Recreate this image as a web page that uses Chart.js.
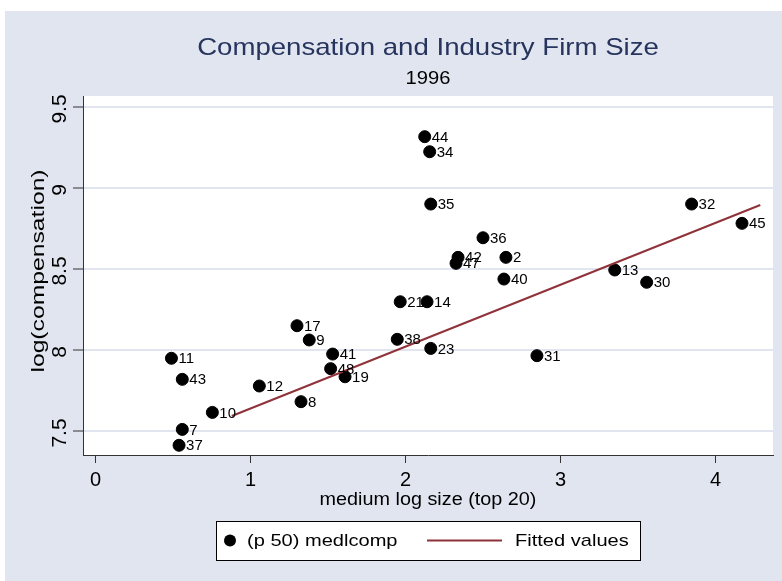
<!DOCTYPE html>
<html>
<head>
<meta charset="utf-8">
<script src="https://cdn.jsdelivr.net/npm/chart.js@4"></script>
<style>
  html, body { margin: 0; padding: 0; background: #ffffff; }
  #wrap { width: 782px; height: 581px; position: relative; }
</style>
</head>
<body>
<div id="wrap"><canvas id="c" width="782" height="581"></canvas></div>
<script>
// ---- data ----
const industryIds = ["11","43","10","7","37","12","17","9","41","48","19","8",
                     "44","34","35","36","42","47","2","40","21","14","38","23","31","13","30","32","45"];
const medLogSize  = [0.49,0.56,0.754,0.56,0.539,1.057,1.30,1.379,1.530,1.517,1.61,1.326,
                     2.124,2.156,2.163,2.50,2.339,2.326,2.648,2.635,1.966,2.139,1.947,2.163,2.848,3.35,3.556,3.846,4.171];
const medLogComp  = [7.949,7.819,7.615,7.51,7.412,7.778,8.15,8.062,7.975,7.885,7.835,7.681,
                     9.317,9.224,8.901,8.693,8.572,8.535,8.572,8.438,8.298,8.298,8.066,8.01,7.965,8.494,8.418,8.901,8.782];
const fittedX = [0.879, 4.289];
const fittedY = [7.593, 8.895];
const xTicks = [0, 1, 2, 3, 4];
const yTicks = [7.5, 8, 8.5, 9, 9.5];
const seriesNames = ["(p 50) medlcomp", "Fitted values"];
const titleText = "Compensation and Industry Firm Size";
const subtitleText = "1996";
const xTitle = "medium log size (top 20)";
const yTitle = "log(compensation)";

const FONT = "'Liberation Sans', Arial, sans-serif";
const BG = "#e1e5ef";
const LINE = "#8f3239";
const TITLE_COLOR = "#26345e";

function drawText(ctx, text, x, y, size, sx, rot, align) {
  ctx.save();
  ctx.translate(x, y);
  if (rot) ctx.rotate(rot);
  ctx.scale(sx, 1);
  ctx.font = size + "px " + FONT;
  ctx.textAlign = align || 'center';
  ctx.textBaseline = 'middle';
  ctx.fillText(text, 0, 0);
  ctx.restore();
}

const bgPlugin = {
  id: 'bg',
  beforeDraw(chart) {
    const ctx = chart.ctx, a = chart.chartArea;
    ctx.save();
    ctx.fillStyle = "#ffffff";
    ctx.fillRect(0, 0, chart.width, chart.height);
    ctx.fillStyle = BG;
    ctx.fillRect(5, 11, chart.width - 5, chart.height - 11);
    ctx.fillStyle = "#ffffff";
    ctx.fillRect(a.left, a.top, a.right - a.left, a.bottom - a.top);
    ctx.restore();
  }
};

const textPlugin = {
  id: 'texts',
  afterDraw(chart) {
    const ctx = chart.ctx, a = chart.chartArea;
    const cx = (a.left + a.right) / 2;
    const ys = chart.scales.y;
    ctx.save();
    // titles
    ctx.fillStyle = TITLE_COLOR;
    drawText(ctx, titleText, cx, 48, 24, 1.15, 0);
    ctx.fillStyle = "#000";
    drawText(ctx, subtitleText, cx, 79, 18, 1.12, 0);
    // x title
    drawText(ctx, xTitle, cx, 500, 18, 1.1, 0);
    // y tick labels (rotated)
    ys.ticks.forEach(t => {
      const y = ys.getPixelForValue(t.value);
      drawText(ctx, String(t.value), 60, y + 2, 20, 1.05, -Math.PI / 2);
    });
    // y title
    drawText(ctx, yTitle, 39, 271, 19, 1.3, -Math.PI / 2);
    // point labels
    const meta = chart.getDatasetMeta(0);
    meta.data.forEach((el, i) => {
      drawText(ctx, industryIds[i], el.x + 7, el.y + 1, 15, 1.0, 0, 'left');
    });
    // legend
    const lx = 216, ly = 521, lw = 424, lh = 39;
    ctx.fillStyle = "#fff";
    ctx.fillRect(lx, ly, lw, lh);
    ctx.strokeStyle = "#000";
    ctx.lineWidth = 1;
    ctx.strokeRect(lx + 0.5, ly + 0.5, lw, lh);
    const my = ly + lh / 2;
    ctx.fillStyle = "#000";
    ctx.beginPath();
    ctx.arc(230, my, 6, 0, Math.PI * 2);
    ctx.fill();
    drawText(ctx, chart.data.datasets[0].label, 247, my + 1, 17, 1.18, 0, 'left');
    ctx.strokeStyle = LINE;
    ctx.lineWidth = 2;
    ctx.beginPath();
    ctx.moveTo(427, my);
    ctx.lineTo(502, my);
    ctx.stroke();
    drawText(ctx, chart.data.datasets[1].label, 515, my + 1, 17, 1.18, 0, 'left');
    ctx.restore();
  }
};

new Chart(document.getElementById('c'), {
  type: 'scatter',
  data: {
    datasets: [
      {
        label: seriesNames[0],
        data: medLogSize.map((x, i) => ({ x: x, y: medLogComp[i] })),
        backgroundColor: '#000',
        borderColor: '#000',
        pointRadius: 6,
        pointHoverRadius: 6,
        order: 1
      },
      {
        label: seriesNames[1],
        type: 'line',
        data: fittedX.map((x, i) => ({ x: x, y: fittedY[i] })),
        borderColor: LINE,
        borderWidth: 2,
        pointRadius: 0,
        fill: false,
        tension: 0,
        order: 0
      }
    ]
  },
  options: {
    responsive: false,
    animation: false,
    events: [],
    layout: { padding: { left: 0, top: 96, right: 9, bottom: 0 } },
    plugins: { legend: { display: false }, title: { display: false }, tooltip: { enabled: false } },
    scales: {
      x: {
        type: 'linear',
        min: -0.0806,
        max: 4.371,
        afterBuildTicks: s => { s.ticks = xTicks.map(v => ({ value: v })); },
        afterFit: s => { s.height = 126; },
        grid: { drawOnChartArea: false, drawTicks: true, tickLength: 8, tickColor: '#333', lineWidth: 1 },
        border: { display: true, color: '#333', width: 1 },
        ticks: { color: '#000', font: { family: FONT, size: 20 }, padding: 5, maxRotation: 0 }
      },
      y: {
        type: 'linear',
        min: 7.352,
        max: 9.568,
        afterBuildTicks: s => { s.ticks = yTicks.map(v => ({ value: v })); },
        afterFit: s => { s.width = 83; },
        grid: { color: '#e1e5ef', lineWidth: 2, drawTicks: true, tickLength: 10, tickColor: '#333', tickWidth: 1 },
        border: { display: true, color: '#333', width: 1 },
        ticks: { display: false }
      }
    }
  },
  plugins: [bgPlugin, textPlugin]
});
</script>
</body>
</html>
